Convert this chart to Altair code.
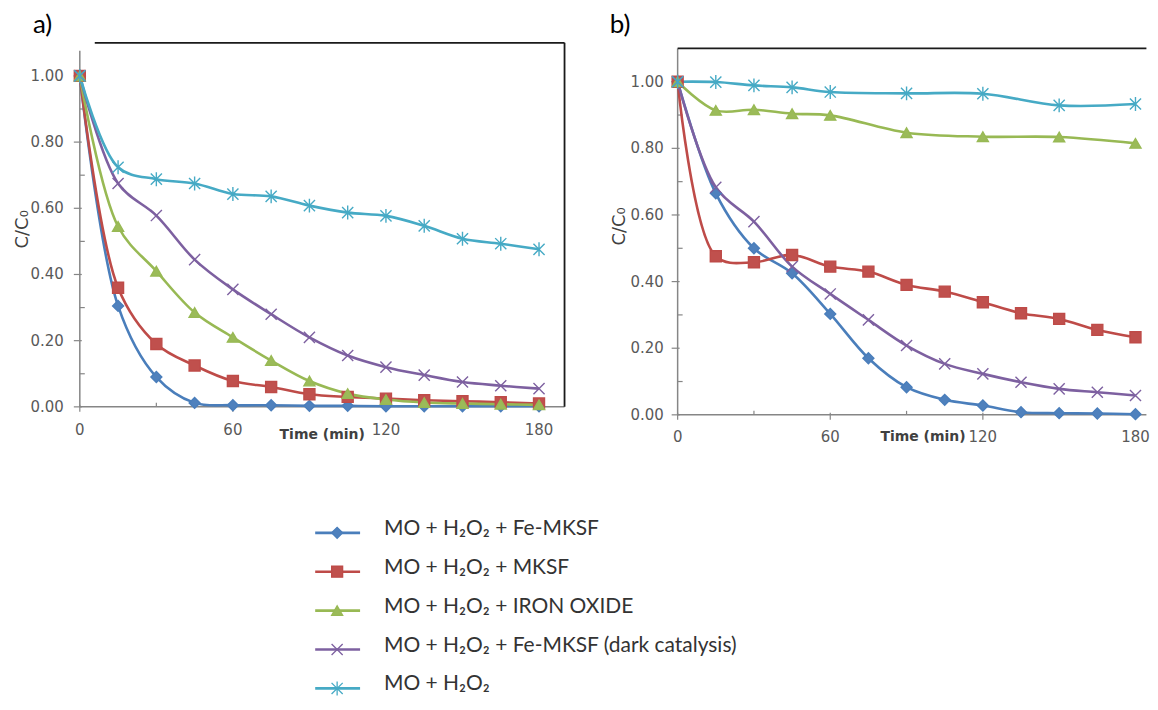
import altair as alt
import pandas as pd

# ---------------- data ----------------
SERIES = [
    "MO + H₂O₂ + Fe-MKSF",
    "MO + H₂O₂ + MKSF",
    "MO + H₂O₂ + IRON OXIDE",
    "MO + H₂O₂ + Fe-MKSF (dark catalysis)",
    "MO + H₂O₂",
]

TIME_FULL = [0, 15, 30, 45, 60, 75, 90, 105, 120, 135, 150, 165, 180]
TIME_SPARSE = [0, 15, 30, 45, 60, 90, 120, 150, 180]

# panel a)
A_FE_MKSF = [1.00, 0.305, 0.090, 0.012, 0.005, 0.005, 0.003, 0.003, 0.002, 0.002, 0.002, 0.002, 0.002]
A_MKSF = [1.00, 0.360, 0.190, 0.125, 0.078, 0.060, 0.038, 0.030, 0.025, 0.020, 0.017, 0.014, 0.010]
A_IRON = [1.00, 0.545, 0.410, 0.285, 0.210, 0.140, 0.078, 0.040, 0.022, 0.013, 0.010, 0.008, 0.006]
A_DARK = [1.00, 0.675, 0.578, 0.445, 0.355, 0.280, 0.210, 0.155, 0.120, 0.096, 0.075, 0.064, 0.055]
A_H2O2 = [1.00, 0.724, 0.688, 0.675, 0.643, 0.636, 0.608, 0.587, 0.577, 0.547, 0.508, 0.493, 0.476]

# panel b)
B_FE_MKSF = [1.00, 0.665, 0.500, 0.425, 0.303, 0.170, 0.083, 0.045, 0.028, 0.008, 0.005, 0.004, 0.002]
B_MKSF = [1.00, 0.476, 0.458, 0.480, 0.445, 0.430, 0.390, 0.370, 0.338, 0.305, 0.288, 0.255, 0.233]
B_IRON = [1.00, 0.914, 0.916, 0.904, 0.899, 0.847, 0.835, 0.834, 0.815]
B_DARK = [1.00, 0.683, 0.580, 0.445, 0.363, 0.285, 0.208, 0.153, 0.123, 0.098, 0.078, 0.068, 0.058]
B_H2O2 = [1.00, 0.999, 0.989, 0.983, 0.969, 0.965, 0.964, 0.929, 0.933]

X_TICKS = [0, 60, 120, 180]
X_MINOR = [30, 90, 150]
Y_TICKS = [0.0, 0.2, 0.4, 0.6, 0.8, 1.0]
Y_MINOR = [0.1, 0.3, 0.5, 0.7, 0.9]

# ---------------- styles ----------------
LINE_COLORS = ["#4A7EBB", "#BE4B48", "#98B954", "#7D60A0", "#46AAC5"]
FILL_COLORS = ["#4F81BD", "#C0504D", "#9BBB59", "transparent", "transparent"]
X_PATH = "M-1,-1L1,1M-1,1L1,-1"
STAR_PATH = "M-1,-1L1,1M-1,1L1,-1M0,-1.25L0,1.25"
SHAPES = ["diamond", "square", "triangle-up", X_PATH, STAR_PATH]
SIZES = [120, 125, 135, 175, 175]
LEG_SIZES = [60, 75, 70, 100, 110]

AX_GREY = "#868686"
LAB_GREY = "#595959"
TXT_FONT = "DejaVu Sans"
LEG_FONT = "Lato"


def long_df(parts):
    rows = []
    for k, (times, vals) in enumerate(parts):
        for t, v in zip(times, vals):
            rows.append({"series": SERIES[k], "k": k, "t": t, "v": v})
    return pd.DataFrame(rows)


df_a = long_df([(TIME_FULL, A_FE_MKSF), (TIME_FULL, A_MKSF), (TIME_FULL, A_IRON),
                (TIME_FULL, A_DARK), (TIME_FULL, A_H2O2)])
df_b = long_df([(TIME_FULL, B_FE_MKSF), (TIME_FULL, B_MKSF), (TIME_SPARSE, B_IRON),
                (TIME_FULL, B_DARK), (TIME_SPARSE, B_H2O2)])

xtick_df = pd.DataFrame({"t": X_TICKS, "lab": [str(t) for t in X_TICKS]})
ytick_df = pd.DataFrame({"v": Y_TICKS, "lab": [f"{v:.2f}" for v in Y_TICKS]})

color_scale = alt.Scale(domain=SERIES, range=LINE_COLORS)
fill_scale = alt.Scale(domain=SERIES, range=FILL_COLORS)
shape_scale = alt.Scale(domain=SERIES, range=SHAPES)


def make_panel(df, tag, xmax, ydom, W, H, left_top, top_x0, right_border,
               tag_dx, ylab_dx, xlab_dy, xt_xy, yt_xy):
    xs = alt.Scale(domain=[0, xmax], nice=False, zero=False)
    ys = alt.Scale(domain=[0, ydom], nice=False, zero=False)
    X = lambda f: alt.X(f, scale=xs, axis=None)
    Y = lambda f: alt.Y(f, scale=ys, axis=None)

    base = alt.Chart(df)
    lines = base.mark_line(interpolate="catmull-rom", strokeWidth=2.6).encode(
        x=X("t:Q"), y=Y("v:Q"),
        color=alt.Color("series:N", scale=color_scale, legend=None),
        detail="k:O",
    )
    pts = base.mark_point(strokeWidth=1.4, opacity=1).encode(
        x=X("t:Q"), y=Y("v:Q"),
        shape=alt.Shape("series:N", scale=shape_scale, legend=None),
        stroke=alt.Stroke("series:N", scale=color_scale, legend=None),
        fill=alt.Fill("series:N", scale=fill_scale, legend=None),
        size=alt.Size("k:O", scale=alt.Scale(domain=[0, 1, 2, 3, 4], range=SIZES), legend=None),
    )

    # axis lines
    left_line = alt.Chart(pd.DataFrame({"y": [left_top], "y0": [0.0]})).mark_rule(
        color=AX_GREY, strokeWidth=1.5).encode(x=alt.value(0), y=Y("y:Q"), y2="y0:Q")
    bottom_line = alt.Chart(pd.DataFrame({"y": [0.0]})).mark_rule(
        color=AX_GREY, strokeWidth=1.5).encode(x=alt.value(0), x2=alt.value(W), y=Y("y:Q"))
    top_line = alt.Chart(pd.DataFrame({"y": [1.1]})).mark_rule(
        color="#1a1a1a", strokeWidth=1.8).encode(
        x=alt.value(top_x0), x2=alt.value(W), y=Y("y:Q"))
    # ticks
    xmajor = alt.Chart(xtick_df).mark_rule(color=AX_GREY, strokeWidth=1.2).encode(
        x=X("t:Q"), y=alt.value(H - 2), y2=alt.value(H + 5))
    xminor = alt.Chart(pd.DataFrame({"t": X_MINOR})).mark_rule(
        color=AX_GREY, strokeWidth=1.2).encode(
        x=X("t:Q"), y=alt.value(H - 4), y2=alt.value(H))
    ymajor = alt.Chart(ytick_df).mark_rule(color=AX_GREY, strokeWidth=1.2).encode(
        y=Y("v:Q"), x=alt.value(-6), x2=alt.value(2))
    yminor = alt.Chart(pd.DataFrame({"v": Y_MINOR})).mark_rule(
        color=AX_GREY, strokeWidth=1.2).encode(
        y=Y("v:Q"), x=alt.value(0), x2=alt.value(5))
    # tick labels
    xlabels = alt.Chart(xtick_df).mark_text(
        font=TXT_FONT, fontSize=15, color=LAB_GREY, align="center", baseline="middle").encode(
        x=X("t:Q"), y=alt.value(H + xlab_dy), text="lab:N")
    ylabels = alt.Chart(ytick_df).mark_text(
        font=TXT_FONT, fontSize=15, color=LAB_GREY, align="right", baseline="middle").encode(
        y=Y("v:Q"), x=alt.value(ylab_dx), text="lab:N")
    # axis titles
    xtitle = alt.Chart(pd.DataFrame({"s": ["Time (min)"]})).mark_text(
        font=TXT_FONT, fontSize=14, fontWeight="bold", color="#404040",
        align="center", baseline="middle").encode(
        text="s:N", x=alt.value(xt_xy[0]), y=alt.value(xt_xy[1]))
    ytitle = alt.Chart(pd.DataFrame({"s": ["C/C₀"]})).mark_text(
        font=TXT_FONT, fontSize=18, color="#404040", angle=270,
        align="center", baseline="middle").encode(
        text="s:N", x=alt.value(yt_xy[0]), y=alt.value(yt_xy[1]))
    tag_text = alt.Chart(pd.DataFrame({"s": [tag]})).mark_text(
        align="left", baseline="alphabetic", font=LEG_FONT, fontSize=26,
        color="#000000").encode(text="s:N", x=alt.value(tag_dx), y=alt.value(-10))

    layers = [left_line, bottom_line, top_line, xmajor, xminor, ymajor, yminor,
              xlabels, ylabels, xtitle, ytitle, tag_text]
    if right_border:
        right_line = alt.Chart(pd.DataFrame({"t": [xmax]})).mark_rule(
            color="#1a1a1a", strokeWidth=1.8).encode(
            x=X("t:Q"), y=alt.value(0), y2=alt.value(H))
        layers.append(right_line)
    layers += [lines, pts]
    return alt.layer(*layers).properties(width=W, height=H)


# panel a: plot area 486 x 365, x 0..190, y 0..1.1
pa = make_panel(df_a, "a)", 190, 1.1, 486, 365, 1.076, 15, True,
                -47, -16, 23.3, (243, 365 + 28.3), (-57, 187))
# panel b: plot area 470 x 373, x 0..184.3, y top such that 1.1 lies 5.6px below the top
pb = make_panel(df_b, "b)", 184.3, 1.1168, 470, 373, 1.1, 0, False,
                -68, -14, 22.3, (246, 373 + 22.3), (-58, 184))

# legend below panel a (custom, as in the original figure)
leg_df = pd.DataFrame({"series": SERIES, "k": [0, 1, 2, 3, 4], "row": [0, 1, 2, 3, 4]})
leg_y = alt.Scale(domain=[0, 4], range=[491.3, 647.3])
leg_base = alt.Chart(leg_df)
leg_line = leg_base.mark_rule(strokeWidth=2.6).encode(
    x=alt.value(236), x2=alt.value(281),
    y=alt.Y("row:Q", scale=leg_y, axis=None),
    color=alt.Color("series:N", scale=color_scale, legend=None))
leg_pts = leg_base.mark_point(strokeWidth=1.3, opacity=1).encode(
    x=alt.value(258),
    y=alt.Y("row:Q", scale=leg_y, axis=None),
    shape=alt.Shape("series:N", scale=shape_scale, legend=None),
    stroke=alt.Stroke("series:N", scale=color_scale, legend=None),
    fill=alt.Fill("series:N", scale=fill_scale, legend=None),
    size=alt.Size("k:O", scale=alt.Scale(domain=[0, 1, 2, 3, 4], range=LEG_SIZES), legend=None))
leg_txt = leg_base.mark_text(align="left", baseline="middle", dy=-4, font=LEG_FONT,
                             fontSize=21, color="#333333").encode(
    x=alt.value(305),
    y=alt.Y("row:Q", scale=leg_y, axis=None),
    text="series:N")
legend = alt.layer(leg_line, leg_pts, leg_txt)

pa_full = alt.layer(pa, legend).resolve_scale(y="independent")

chart = alt.hconcat(pa_full, pb, spacing=113.4, bounds="flush").properties(
    padding={"left": 6, "top": 3, "right": 0, "bottom": 0},
    background="white",
).configure_view(stroke=None)

chart.save("out.html", embed_options={"renderer": "svg", "actions": False})
